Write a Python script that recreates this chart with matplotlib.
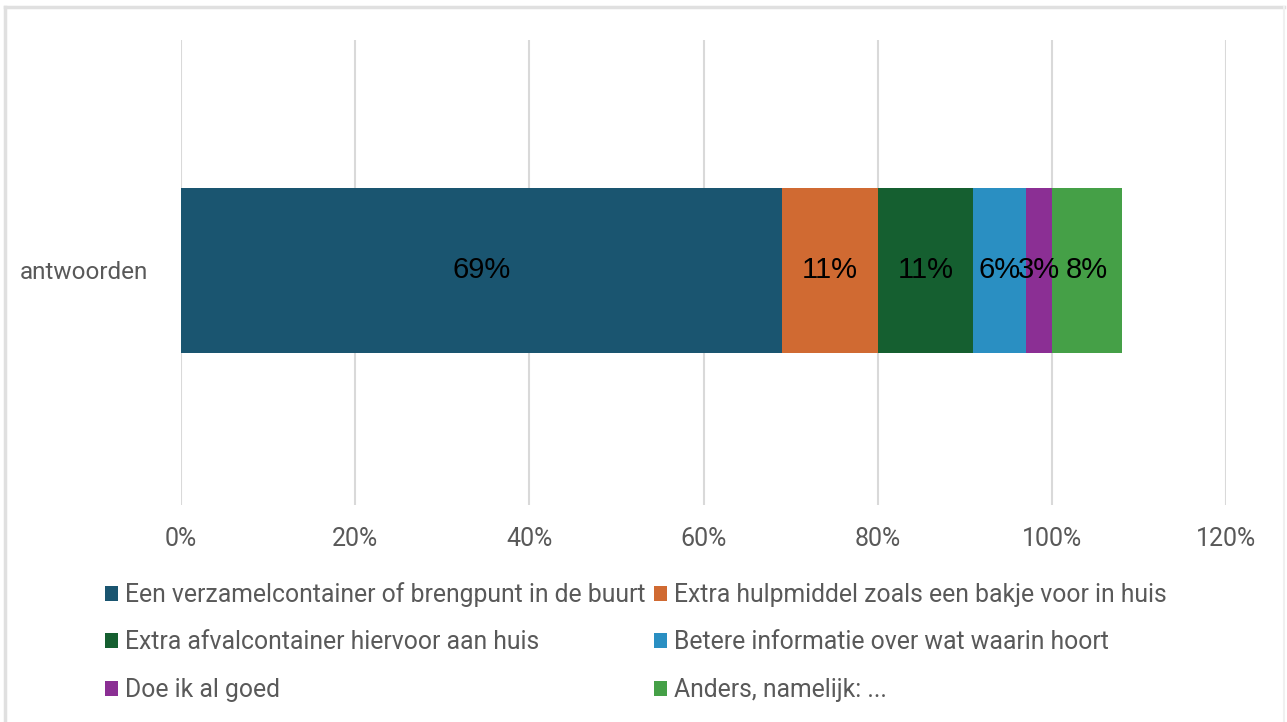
import matplotlib.pyplot as plt
from matplotlib.lines import Line2D
from matplotlib.ticker import FuncFormatter, MultipleLocator

plt.rcParams['font.family'] = ['Roboto', 'DejaVu Sans']

category = "antwoorden"
answers = [
    "Een verzamelcontainer of brengpunt in de buurt",
    "Extra hulpmiddel zoals een bakje voor in huis",
    "Extra afvalcontainer hiervoor aan huis",
    "Betere informatie over wat waarin hoort",
    "Doe ik al goed",
    "Anders, namelijk: ...",
]
shares = [69, 11, 11, 6, 3, 8]
colors = ["#1a5570", "#d06a32", "#155f30", "#2a8fc2", "#8b2f94", "#45a047"]

fig = plt.figure(figsize=(12.87, 7.22), dpi=100)
ax = fig.add_axes([181 / 1287, 1 - 505 / 722, (1226 - 181) / 1287, (505 - 40) / 722])

left = 0
handles = []
for name, val, col in zip(answers, shares, colors):
    bars = ax.barh([0], [val], left=left, height=0.355, color=col, label=name)
    ax.text(left + val / 2, 0, f"{val}%", ha="center", va="center",
            fontsize=21, color="black", family=["Liberation Sans", "DejaVu Sans"])
    handles.append(bars)
    left += val

ax.set_xlim(0, 120)
ax.set_ylim(-0.505, 0.495)
ax.xaxis.set_major_locator(MultipleLocator(20))
ax.xaxis.set_major_formatter(FuncFormatter(lambda v, p: f"{v:.0f}%"))
ax.set_yticks([0])
ax.set_yticklabels([category])
ax.grid(axis="x", color="#d9d9d9", linewidth=1.5)
ax.set_axisbelow(True)
for s in ax.spines.values():
    s.set_visible(False)
ax.tick_params(axis="x", length=0, pad=16, labelsize=18, labelcolor="#595959")
ax.tick_params(axis="y", length=0, pad=24, labelsize=17.5, labelcolor="#595959")

# legend fills column-wise, so reorder to read row by row
order = [0, 2, 4, 1, 3, 5]
leg = fig.legend([handles[i] for i in order], [answers[i] for i in order],
                 ncol=2, loc="upper left", bbox_to_anchor=(95 / 1287, 1 - 572 / 722),
                 frameon=False, fontsize=17.8, handlelength=0.55, handleheight=0.55,
                 handletextpad=0.25, columnspacing=0.35, labelspacing=0.95,
                 borderaxespad=0)
for t in leg.get_texts():
    t.set_color("#595959")

# outer frame
fig.add_artist(Line2D([5 / 1287, 1284 / 1287], [1 - 7 / 722] * 2, color="#e0e0e0", lw=2.5))
fig.add_artist(Line2D([5 / 1287] * 2, [0, 1 - 7 / 722], color="#e0e0e0", lw=2.5))
fig.add_artist(Line2D([1284 / 1287] * 2, [0, 1 - 7 / 722], color="#f0f0f0", lw=1.5))

fig.savefig("out.png", dpi=100)
